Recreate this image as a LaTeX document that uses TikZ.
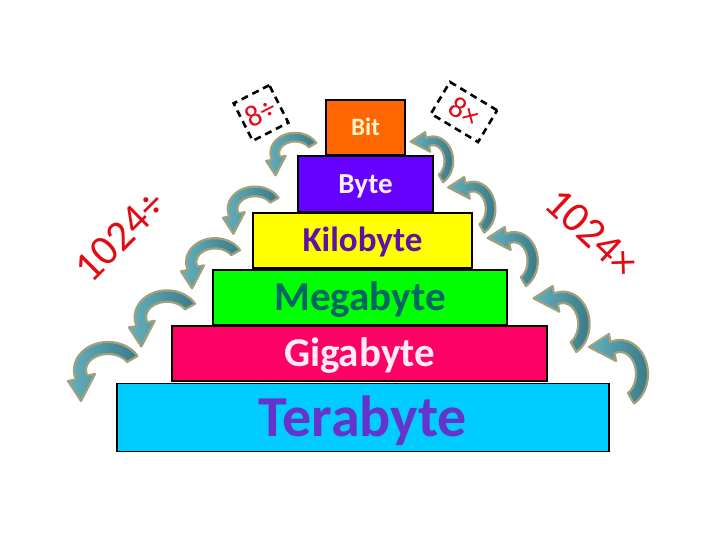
\documentclass[tikz,border=0pt]{standalone}
\usepackage{fontspec}
\setmainfont{Carlito}
\definecolor{cBit}{RGB}{255,102,0}
\definecolor{cByte}{RGB}{102,0,255}
\definecolor{cKilo}{RGB}{255,255,0}
\definecolor{cMega}{RGB}{0,255,0}
\definecolor{cGiga}{RGB}{255,0,102}
\definecolor{cTera}{RGB}{0,204,255}
\definecolor{tBit}{RGB}{255,242,204}
\definecolor{tByte}{RGB}{248,240,255}
\definecolor{tKilo}{RGB}{96,16,168}
\definecolor{tMega}{RGB}{0,102,102}
\definecolor{tGiga}{RGB}{255,236,244}
\definecolor{tTera}{RGB}{102,51,204}
\definecolor{redtxt}{RGB}{228,10,20}
\definecolor{khaki}{RGB}{160,160,125}
\definecolor{tealL}{RGB}{100,176,190}
\definecolor{tealD}{RGB}{58,122,135}
\tikzset{
  level/.style={draw=black, line width=1.2pt, inner sep=0pt, outer sep=0pt,
    text depth=0pt},
  dashbox/.style={draw=black, line width=2.6pt, dash pattern=on 7pt off 5pt,
    inner sep=0pt, text=redtxt, font=\fontsize{30}{34}\selectfont,
    text height=19.3pt, text depth=0pt},
  biglabel/.style={text=redtxt, font=\fontsize{43}{48}\selectfont, inner sep=0pt},
  carrowstyle/.style={draw=khaki, line width=2.2pt, line join=round,
    left color=tealL, right color=tealD},
  carrow/.pic={
    \path[carrowstyle]
      plot[domain=-30:-200, samples=30] ({34*cos(\x)},{28*sin(\x)})
      -- (-40,11) -- (-27,31) -- (-13,4)
      -- plot[domain=-200:-30, samples=30] ({22*cos(\x)},{16*sin(\x)})
      -- cycle;
  }
}
\begin{document}
\begin{tikzpicture}[x=1pt, y=-1pt]
\useasboundingbox (0,0) rectangle (720,540);

% pyramid levels
\node[level, fill=cBit, text=tBit, minimum width=79pt, minimum height=55pt,
  text height=16.1pt, font=\bfseries\fontsize{25}{30}\selectfont] (bit) at (365.5,127.5) {Bit};
\node[level, fill=cByte, text=tByte, minimum width=135pt, minimum height=56pt,
  text height=18.7pt, font=\bfseries\fontsize{29}{34}\selectfont] (byte) at (365.5,184) {Byte};
\node[level, fill=cKilo, text=tKilo, minimum width=219pt, minimum height=55pt,
  text height=22.5pt, font=\bfseries\fontsize{35}{40}\selectfont] (kilo) at (362.5,240.5) {Kilobyte};
\node[level, fill=cMega, text=tMega, minimum width=294pt, minimum height=55pt,
  text height=26.4pt, font=\bfseries\fontsize{41}{46}\selectfont] (mega) at (360,297.5) {Megabyte};
\node[level, fill=cGiga, text=tGiga, minimum width=375pt, minimum height=55pt,
  text height=26.4pt, font=\bfseries\fontsize{41}{46}\selectfont] (giga) at (359.5,353.5) {Gigabyte};
\node[level, fill=cTera, text=tTera, minimum width=492pt, minimum height=68pt,
  text height=37.4pt, font=\bfseries\fontsize{58}{64}\selectfont] (tera) at (363,417.5) {Terabyte};

% dashed factor boxes
\node[dashbox, rotate=27, minimum width=40pt, minimum height=42pt] (div8) at (261,113) {8÷};
\node[dashbox, rotate=-31, minimum width=55pt, minimum height=37pt] (mul8) at (464,112) {8×};

% big labels
\node[biglabel, rotate=45] (div1024) at (120,236) {1024÷};
\node[biglabel, rotate=-43] (mul1024) at (592,233) {1024×};

% left curved arrows (pointing down-left)
\pic[scale=0.72] at (295,153) {carrow};
\pic[scale=0.80] at (255,209) {carrow};
\pic[scale=0.85] at (215,262) {carrow};
\pic[scale=0.95] at (167,317) {carrow};
\pic[scale=1.00] at (108,370) {carrow};

% right curved arrows (pointing up-left)
\pic[scale=0.72, rotate=-90] at (433,161) {carrow};
\pic[scale=0.80, rotate=-90] at (473,209) {carrow};
\pic[scale=0.85, rotate=-90] at (514,261) {carrow};
\pic[scale=0.95, rotate=-90] at (563,324) {carrow};
\pic[scale=1.00, rotate=-90] at (620,374) {carrow};
\end{tikzpicture}
\end{document}
